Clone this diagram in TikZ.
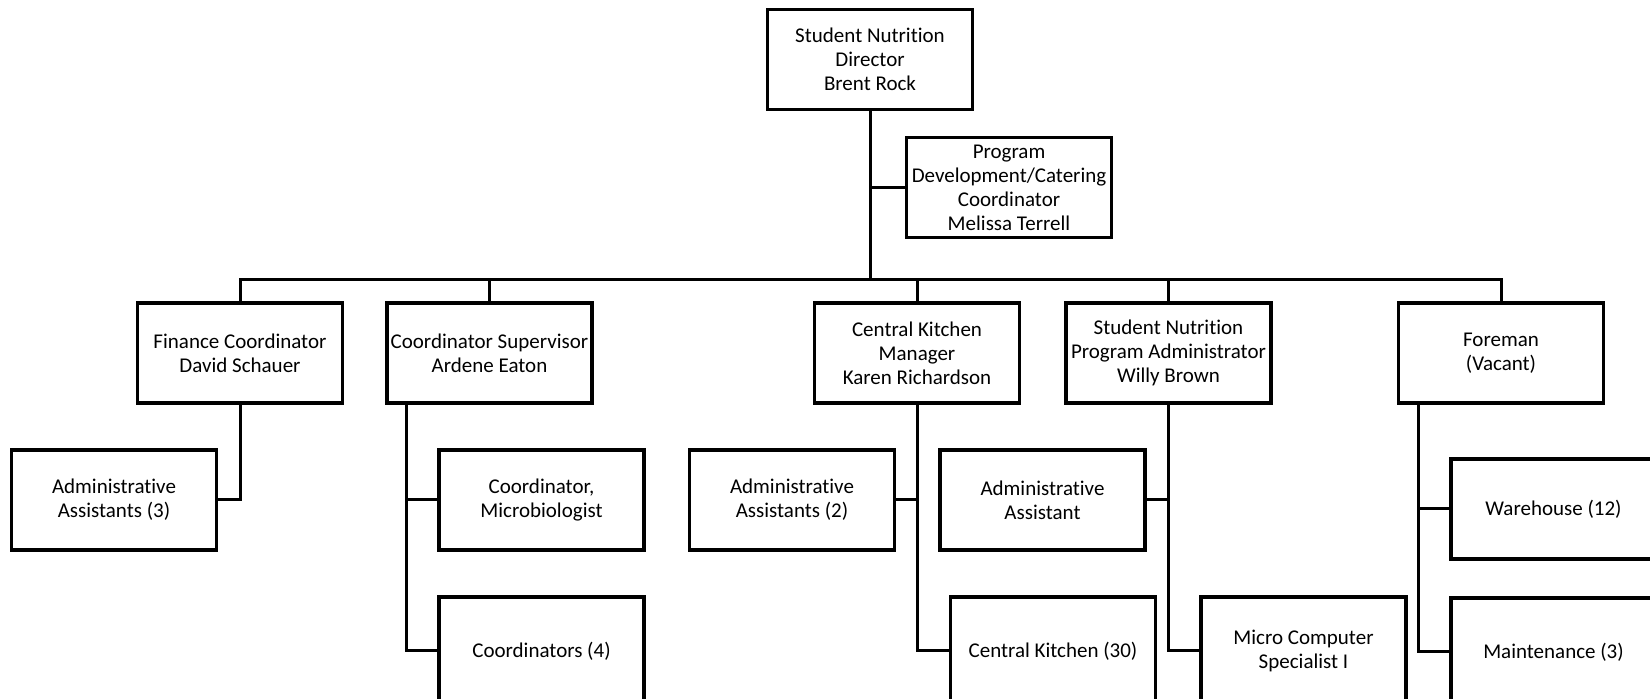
\documentclass[tikz,border=0pt]{standalone}
\usepackage{fontspec}
\setmainfont[Ligatures=NoCommon]{Carlito}
\tikzset{
  orgbox/.style={draw, line width=1.6pt, minimum width=102.5pt, minimum height=50pt,
    inner xsep=0pt, align=center, font=\fontsize{10.5pt}{12pt}\selectfont},
  lowbox/.style={orgbox, minimum height=54pt},
  link/.style={line width=1.5pt}
}
\begin{document}
\begin{tikzpicture}[x=0.5pt, y=-0.5pt]
  \clip (0,0) rectangle (1650,699);
  \fill[white] (0,0) rectangle (1650,699);

  % Director and staff position
  \node[orgbox] (dir) at (870,59.5) {Student Nutrition\\Director\\Brent Rock};
  \node[orgbox] (prog) at (1009,187.5) {Program\\Development/Catering\\Coordinator\\Melissa Terrell};

  % Second level
  \node[orgbox] (fin) at (240,353) {Finance Coordinator\\David Schauer};
  \node[orgbox] (csup) at (489.5,353) {Coordinator Supervisor\\Ardene Eaton};
  \node[orgbox] (ckm) at (917,353) {Central Kitchen\\Manager\\Karen Richardson};
  \node[orgbox] (snpa) at (1168.5,353) {Student Nutrition\\Program Administrator\\Willy Brown};
  \node[orgbox] (fore) at (1501,353) {Foreman\\(Vacant)};

  % Third level
  \node[orgbox] (adm3) at (114,500) {Administrative\\Assistants (3)};
  \node[orgbox] (cmic) at (541.5,500) {Coordinator,\\Microbiologist};
  \node[orgbox] (adm2) at (792,500) {Administrative\\Assistants (2)};
  \node[orgbox] (adma) at (1042.5,500) {Administrative\\Assistant};
  \node[orgbox] (ware) at (1553.5,509) {Warehouse (12)};

  % Fourth level, cut off at the bottom edge
  \node[lowbox] (crd4) at (541.5,651) {Coordinators (4)};
  \node[lowbox] (ck30) at (1053,651) {Central Kitchen (30)};
  \node[lowbox] (mcs) at (1303.5,651) {Micro Computer\\Specialist I};
  \node[lowbox] (maint) at (1553.5,652) {Maintenance (3)};

  % Trunk and bus
  \coordinate (bus) at (dir.south |- 0,280);
  \draw[link] (dir.south) -- (bus);
  \draw[link] (prog.west) -- (prog.west -| dir.south);
  \draw[link] (fin.north) |- (bus) -| (fore.north);
  \foreach \n in {csup,ckm,snpa} {
    \draw[link] (\n.north) -- (\n.north |- bus);
  }

  % Branches below the second level
  \draw[link] (fin.south) |- (adm3.east);
  \coordinate (csupv) at ([xshift=10.5pt]csup.south west);
  \draw[link] (csupv) |- (crd4.west);
  \draw[link] (cmic.west) -- (cmic.west -| csupv);
  \draw[link] (ckm.south) |- (ck30.west);
  \draw[link] (adm2.east) -- (adm2.east -| ckm.south);
  \draw[link] (snpa.south) |- (mcs.west);
  \draw[link] (adma.east) -- (adma.east -| snpa.south);
  \coordinate (forev) at ([xshift=11pt]fore.south west);
  \draw[link] (forev) |- (maint.west);
  \draw[link] (ware.west) -- (ware.west -| forev);
\end{tikzpicture}
\end{document}
